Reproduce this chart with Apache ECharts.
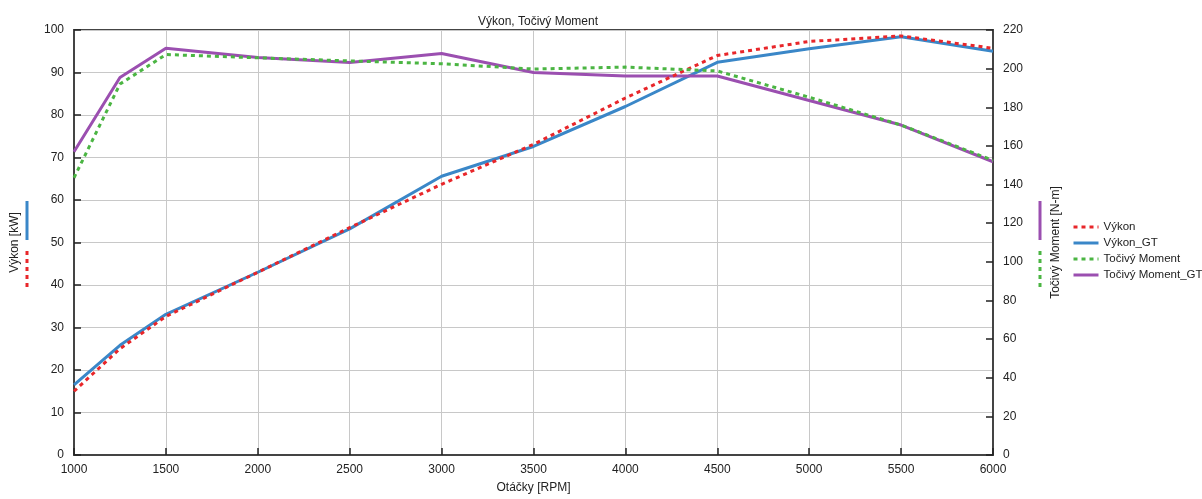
<!DOCTYPE html>
<html><head><meta charset="utf-8">
<script src="https://cdn.jsdelivr.net/npm/echarts@6/dist/echarts.min.js"></script>
<style>html,body{margin:0;padding:0;background:#fff}#c{width:1202px;height:499px}</style>
</head><body><div id="c"></div>
<script>
const rpm = [1000, 1250, 1500, 2000, 2500, 3000, 3500, 4000, 4500, 5000, 5500, 6000];
const vykon = [15.0, 25.0, 32.6, 43.0, 53.5, 63.7, 73.1, 84.0, 94.0, 97.3, 98.6, 95.7];
const vykonGT = [16.5, 25.8, 33.1, 43.0, 53.2, 65.6, 72.6, 82.0, 92.4, 95.6, 98.4, 95.0];
const moment = [143.5, 192.0, 207.3, 205.6, 204.0, 202.5, 199.8, 200.8, 198.8, 185.2, 170.8, 152.5];
const momentGT = [157.0, 195.4, 210.5, 205.8, 203.2, 207.8, 198.0, 196.2, 196.2, 183.5, 170.8, 151.8];
const xTicks = { min: 1000, max: 6000, interval: 500 };
const leftTicks = { min: 0, max: 100, interval: 10 };
const rightTicks = { min: 0, max: 220, interval: 20 };

const C = { red: '#e8262a', blue: '#3a87c8', green: '#4bb543', purple: '#9b4fb0' };
const font = 'Liberation Sans, Arial, sans-serif';
const pair = (ys) => rpm.map((x, i) => [x, ys[i]]);

const chart = echarts.init(document.getElementById('c'), null, { renderer: 'canvas' });
const axisCommon = {
  axisLine: { show: true, lineStyle: { color: '#444', width: 2 } },
  axisTick: { show: true, inside: true, length: 7, lineStyle: { color: '#222', width: 1.5 } },
  axisLabel: { color: '#222', fontSize: 12, fontFamily: font, formatter: (v) => String(v) },
  nameTextStyle: { color: '#222', fontSize: 12, fontFamily: font }
};
chart.setOption({
  animation: false,
  textStyle: { fontFamily: font },
  title: { text: 'Výkon, Točivý Moment', left: 533, textAlign: 'center', top: 11,
    textStyle: { fontSize: 12, fontWeight: 'normal', color: '#222', fontFamily: font } },
  grid: { left: 74, right: 209, top: 30, bottom: 37, show: true, borderColor: '#444', borderWidth: 2, backgroundColor: 'transparent' },
  legend: {
    orient: 'vertical', left: 1067, top: 216, itemWidth: 25, itemHeight: 10, itemGap: 4, padding: 5,
    itemStyle: { opacity: 0 },
    lineStyle: { width: 3 },
    textStyle: { fontSize: 11.5, color: '#222', fontFamily: font },
    data: ['Výkon', 'Výkon_GT', 'Točivý Moment', 'Točivý Moment_GT']
  },
  xAxis: Object.assign({}, axisCommon, {
    type: 'value', min: xTicks.min, max: xTicks.max, interval: xTicks.interval,
    name: 'Otáčky [RPM]', nameLocation: 'middle', nameGap: 27,
    axisLabel: Object.assign({}, axisCommon.axisLabel, { margin: 9 }),
    splitLine: { show: true, lineStyle: { color: '#c8c8c8', width: 1 } }
  }),
  yAxis: [
    Object.assign({}, axisCommon, {
      type: 'value', min: leftTicks.min, max: leftTicks.max, interval: leftTicks.interval,
      name: 'Výkon [kW]', nameLocation: 'middle', nameGap: 53, nameRotate: 90,
      axisLabel: Object.assign({}, axisCommon.axisLabel, { margin: 10 }),
      splitLine: { show: true, lineStyle: { color: '#c8c8c8', width: 1 } }
    }),
    Object.assign({}, axisCommon, {
      type: 'value', position: 'right', min: rightTicks.min, max: rightTicks.max, interval: rightTicks.interval,
      name: 'Točivý Moment [N-m]', nameLocation: 'middle', nameGap: 57, nameRotate: 90,
      axisLabel: Object.assign({}, axisCommon.axisLabel, { margin: 10 }),
      splitLine: { show: false }
    })
  ],
  graphic: [
    { type: 'line', shape: { x1: 27, y1: 201, x2: 27, y2: 240 }, style: { stroke: C.blue, lineWidth: 3 } },
    { type: 'line', shape: { x1: 27, y1: 251, x2: 27, y2: 290 }, style: { stroke: C.red, lineWidth: 3, lineDash: [4, 4] } },
    { type: 'line', shape: { x1: 1040, y1: 201, x2: 1040, y2: 240 }, style: { stroke: C.purple, lineWidth: 3 } },
    { type: 'line', shape: { x1: 1040, y1: 251, x2: 1040, y2: 290 }, style: { stroke: C.green, lineWidth: 3, lineDash: [4, 4] } }
  ],
  series: [
    { name: 'Výkon', type: 'line', yAxisIndex: 0, data: pair(vykon), showSymbol: false, symbol: 'none', z: 4,
      lineStyle: { color: C.red, width: 3, type: [4, 4] }, itemStyle: { color: C.red } },
    { name: 'Výkon_GT', type: 'line', yAxisIndex: 0, data: pair(vykonGT), showSymbol: false, symbol: 'none', z: 3,
      lineStyle: { color: C.blue, width: 3 }, itemStyle: { color: C.blue } },
    { name: 'Točivý Moment', type: 'line', yAxisIndex: 1, data: pair(moment), showSymbol: false, symbol: 'none', z: 4,
      lineStyle: { color: C.green, width: 3, type: [4, 4] }, itemStyle: { color: C.green } },
    { name: 'Točivý Moment_GT', type: 'line', yAxisIndex: 1, data: pair(momentGT), showSymbol: false, symbol: 'none', z: 3,
      lineStyle: { color: C.purple, width: 3 }, itemStyle: { color: C.purple } }
  ]
});
</script></body></html>
